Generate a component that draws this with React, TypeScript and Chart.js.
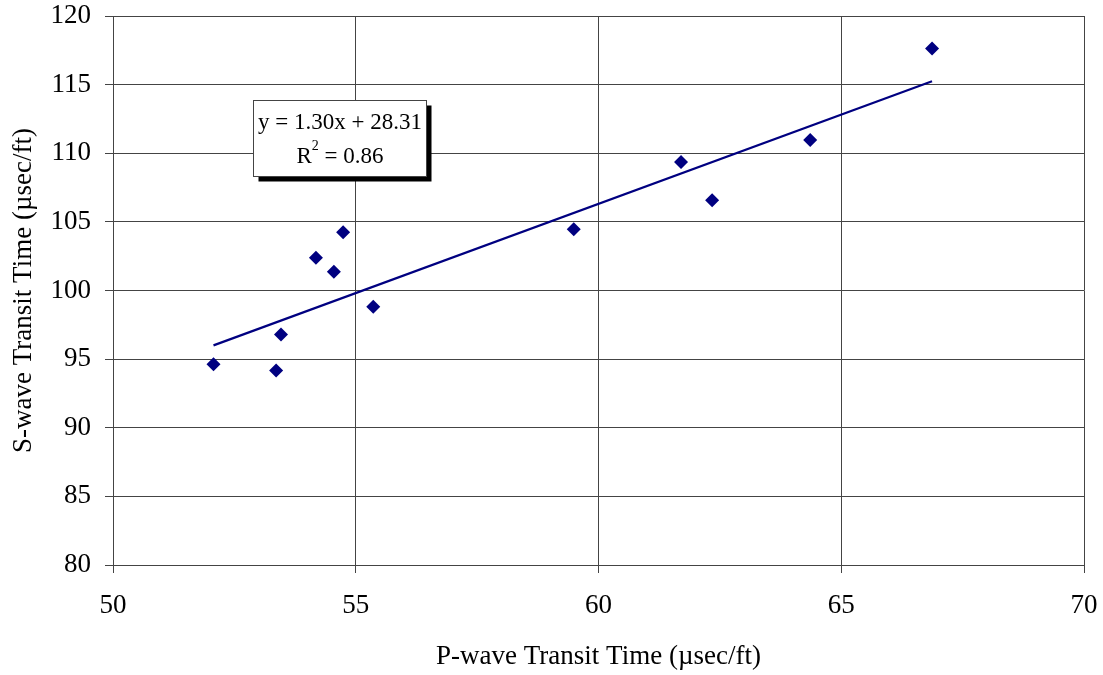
import React, { useEffect, useRef } from "react";
import { Chart, registerables } from "chart.js";

Chart.register(...registerables);

// Measured transit times (µsec/ft)
const pWave = [52.07, 53.36, 53.46, 54.18, 54.55, 54.74, 55.36, 59.49, 61.70, 62.34, 64.36, 66.87];
const sWave = [94.62, 94.18, 96.80, 102.38, 101.36, 104.24, 98.81, 104.47, 109.37, 106.58, 110.97, 117.64];

// Linear fit: y = slope * x + intercept
const slope = 1.30;
const intercept = 28.31;
const rSquared = 0.86;

const xTicks = [50, 55, 60, 65, 70];
const yTicks = [80, 85, 90, 95, 100, 105, 110, 115, 120];

const FONT = "'Liberation Serif', 'Times New Roman', serif";
const NAVY = "#000080";
const GRID = "#444";

// Upper-left corner of the equation box, in data units
const boxAnchor = { x: 52.88, y: 113.9 };

const equationBox = {
  id: "equationBox",
  afterDraw(chart: any) {
    const { ctx } = chart;
    const xs = chart.scales.x;
    const ys = chart.scales.y;
    const left = Math.round(xs.getPixelForValue(boxAnchor.x)) + 0.5;
    const top = Math.round(ys.getPixelForValue(boxAnchor.y)) + 0.5;
    const w = 173;
    const h = 76;
    ctx.save();
    // drop shadow
    ctx.fillStyle = "#000";
    ctx.fillRect(left + 5, top + 5, w, h);
    ctx.fillStyle = "#fff";
    ctx.fillRect(left, top, w, h);
    ctx.strokeStyle = "#444";
    ctx.lineWidth = 1;
    ctx.strokeRect(left, top, w, h);
    ctx.fillStyle = "#000";
    ctx.font = `23px ${FONT}`;
    ctx.textBaseline = "alphabetic";
    ctx.textAlign = "center";
    const cx = left + w / 2;
    ctx.fillText(`y = ${slope.toFixed(2)}x + ${intercept.toFixed(2)}`, cx, top + 28);
    // R² line with superscript
    const r1 = "R";
    const r2 = ` = ${rSquared.toFixed(2)}`;
    ctx.font = `23px ${FONT}`;
    const wR = ctx.measureText(r1).width;
    const w2 = ctx.measureText(r2).width;
    ctx.font = `14px ${FONT}`;
    const wSup = ctx.measureText("2").width;
    const total = wR + wSup + w2;
    let sx = cx - total / 2;
    ctx.textAlign = "left";
    ctx.font = `23px ${FONT}`;
    ctx.fillText(r1, sx, top + 62);
    sx += wR;
    ctx.font = `14px ${FONT}`;
    ctx.fillText("2", sx, top + 49);
    sx += wSup;
    ctx.font = `23px ${FONT}`;
    ctx.fillText(r2, sx, top + 62);
    ctx.restore();
  },
};

const noEdgePadding = (s: any) => {
  s.paddingTop = 0;
  s.paddingBottom = 0;
  s.paddingLeft = 0;
  s.paddingRight = 0;
};

export default function App() {
  const ref = useRef<HTMLCanvasElement | null>(null);

  useEffect(() => {
    document.body.style.margin = "0";
    const canvas = ref.current;
    if (!canvas) return;
    const xMin = Math.min(...pWave);
    const xMax = Math.max(...pWave);
    const chart = new Chart(canvas, {
      type: "scatter",
      data: {
        datasets: [
          {
            type: "line",
            data: [
              { x: xMin, y: slope * xMin + intercept },
              { x: xMax, y: slope * xMax + intercept },
            ],
            borderColor: NAVY,
            borderWidth: 2.2,
            pointRadius: 0,
            fill: false,
            order: 2,
          } as any,
          {
            data: pWave.map((x, i) => ({ x, y: sWave[i] })),
            backgroundColor: NAVY,
            borderColor: NAVY,
            pointStyle: "rectRot",
            pointRadius: 7,
            pointBorderWidth: 0,
            order: 1,
          } as any,
        ],
      },
      options: {
        responsive: false,
        animation: false,
        layout: { padding: { left: 0, top: 16, right: 19, bottom: 0 } },
        plugins: { legend: { display: false }, tooltip: { enabled: false } },
        scales: {
          x: {
            type: "linear",
            min: 50,
            max: 70,
            afterBuildTicks: (s: any) => {
              s.ticks = xTicks.map((v) => ({ value: v }));
            },
            afterFit: (s: any) => {
              noEdgePadding(s);
              s.height = 110;
            },
            grid: { color: GRID, lineWidth: 1, tickLength: 8, drawTicks: true },
            border: { color: GRID, width: 1 },
            ticks: { color: "#000", font: { family: FONT, size: 27 }, padding: 17, maxRotation: 0 },
            title: {
              display: true,
              text: "P-wave Transit Time (µsec/ft)",
              color: "#000",
              font: { family: FONT, size: 27 },
              padding: { top: 0, bottom: 2 },
            },
          },
          y: {
            type: "linear",
            min: 80,
            max: 120,
            afterBuildTicks: (s: any) => {
              s.ticks = yTicks.map((v) => ({ value: v }));
            },
            afterFit: (s: any) => {
              noEdgePadding(s);
              s.width = 113;
            },
            grid: { color: GRID, lineWidth: 1, tickLength: 8, drawTicks: true },
            border: { color: GRID, width: 1 },
            ticks: { color: "#000", font: { family: FONT, size: 27 }, padding: 14 },
            title: {
              display: true,
              text: "S-wave Transit Time (µsec/ft)",
              color: "#000",
              font: { family: FONT, size: 27 },
              padding: { top: 8, bottom: 0 },
            },
          },
        },
      },
      plugins: [equationBox],
    });
    return () => chart.destroy();
  }, []);

  return <canvas ref={ref} width={1103} height={675} style={{ display: "block" }} />;
}
